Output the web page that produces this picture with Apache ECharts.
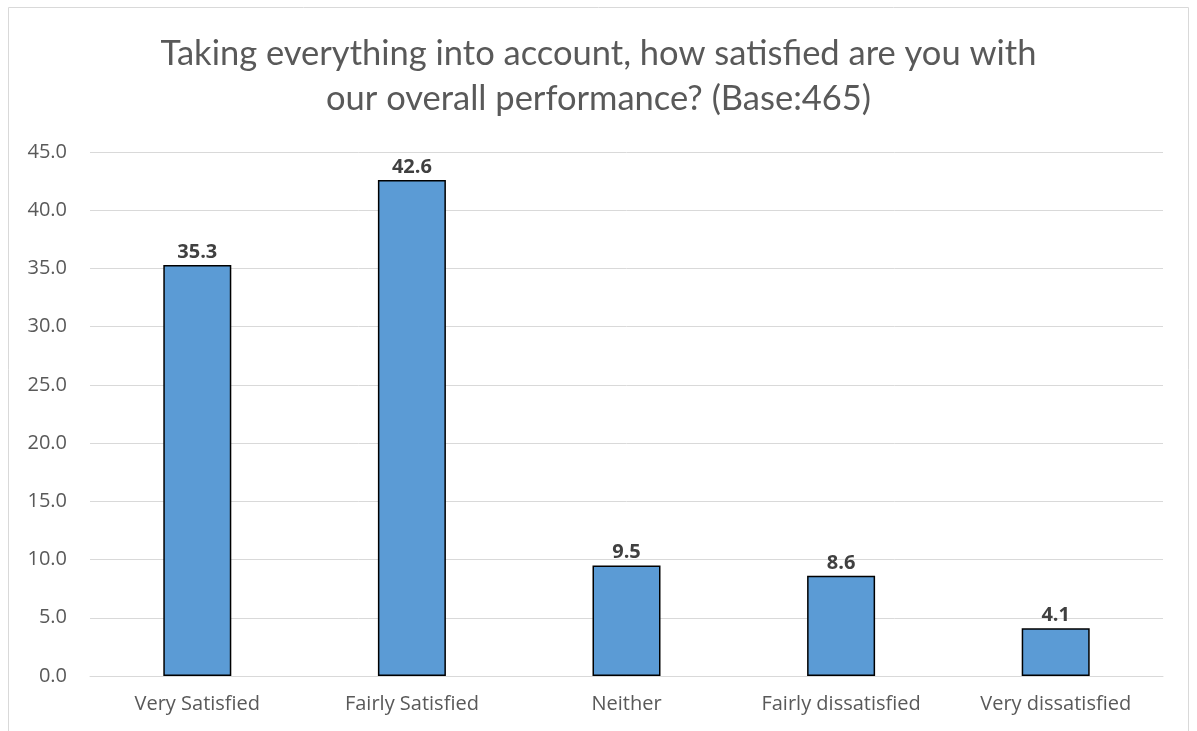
<!DOCTYPE html>
<html>
<head>
<meta charset="utf-8">
<script src="https://cdn.jsdelivr.net/npm/echarts@6/dist/echarts.min.js"></script>
<style>
html,body{margin:0;padding:0;background:#fff;}
#chart{width:1197px;height:731px;}
</style>
</head>
<body>
<div id="chart"></div>
<script>
const categories = ['Very Satisfied', 'Fairly Satisfied', 'Neither', 'Fairly dissatisfied', 'Very dissatisfied'];
const values = [35.3, 42.6, 9.5, 8.6, 4.1];
const titleText = 'Taking everything into account, how satisfied are you with\nour overall performance? (Base:465)';

const chart = echarts.init(document.getElementById('chart'));
chart.setOption({
  animation: false,
  graphic: [{
    type: 'rect',
    shape: { x: 8.5, y: 7.5, width: 1180, height: 740 },
    style: { fill: 'none', stroke: '#d9d9d9', lineWidth: 1 },
    silent: true
  }],
  title: {
    text: titleText,
    left: 'center',
    top: 26,
    textStyle: {
      fontFamily: 'Lato',
      fontWeight: 'normal',
      fontSize: 34.5,
      color: '#595959',
      lineHeight: 45
    }
  },
  grid: { left: 90, right: 34, top: 152, bottom: 55, containLabel: false },
  xAxis: {
    type: 'category',
    data: categories,
    axisLine: { show: true, lineStyle: { color: '#d9d9d9', width: 1 } },
    axisTick: { show: false },
    axisLabel: { fontFamily: 'Open Sans', fontSize: 20, color: '#595959', margin: 18 }
  },
  yAxis: {
    type: 'value',
    min: 0, max: 45, interval: 5,
    axisLine: { show: false },
    axisTick: { show: false },
    splitLine: { lineStyle: { color: '#d9d9d9', width: 1 } },
    axisLabel: {
      fontFamily: 'Open Sans', fontSize: 20, color: '#595959', margin: 23,
      formatter: v => v.toFixed(1)
    }
  },
  series: [{
    type: 'bar',
    data: values,
    barWidth: 68,
    itemStyle: { color: '#5b9bd5', borderColor: '#000', borderWidth: 1.5 },
    label: {
      show: true, position: 'top', distance: 3,
      fontFamily: 'Open Sans', fontWeight: 'bold', fontSize: 20, color: '#404040',
      formatter: p => p.value.toFixed(1)
    }
  }]
});
</script>
</body>
</html>
